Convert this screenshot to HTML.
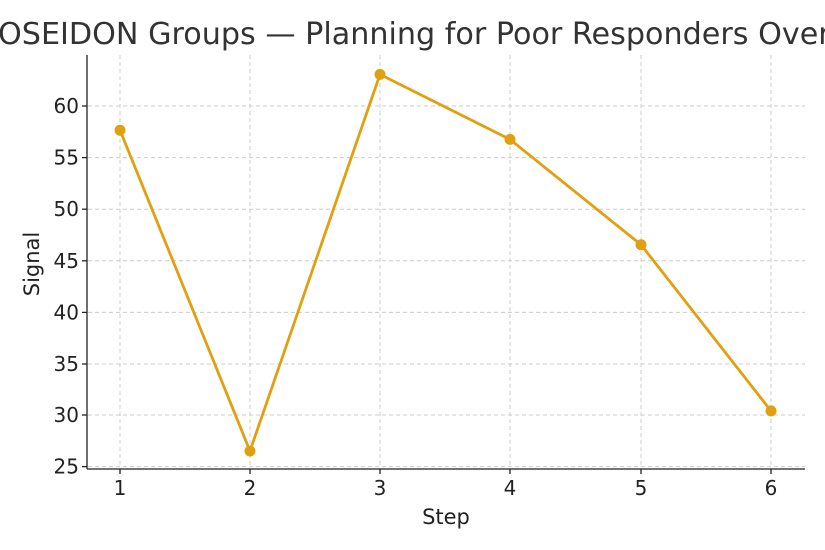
<!DOCTYPE html>
<html><head><meta charset="utf-8"><style>
body{margin:0;background:#fff;}
svg{display:block;font-family:"DejaVu Sans","Liberation Sans",sans-serif;}
</style></head><body>
<svg width="825" height="550" xmlns="http://www.w3.org/2000/svg">
<rect width="825" height="550" fill="#fff"/>
<text x="447" y="44" font-size="30.2" fill="#333" text-anchor="middle">POSEIDON Groups — Planning for Poor Responders Over Time</text>
<g stroke="#ccc" stroke-width="1" stroke-dasharray="4,3">
<line x1="120" y1="55" x2="120" y2="468"/><line x1="250" y1="55" x2="250" y2="468"/><line x1="380" y1="55" x2="380" y2="468"/><line x1="510" y1="55" x2="510" y2="468"/><line x1="641" y1="55" x2="641" y2="468"/><line x1="771" y1="55" x2="771" y2="468"/>
<line x1="88" y1="106" x2="805" y2="106"/><line x1="88" y1="157.6" x2="805" y2="157.6"/><line x1="88" y1="209.2" x2="805" y2="209.2"/><line x1="88" y1="260.8" x2="805" y2="260.8"/><line x1="88" y1="312.4" x2="805" y2="312.4"/><line x1="88" y1="364" x2="805" y2="364"/><line x1="88" y1="415" x2="805" y2="415"/><line x1="88" y1="466.6" x2="805" y2="466.6"/>
</g>
<g stroke="#222" stroke-width="1.3">
<line x1="87" y1="55" x2="87" y2="469"/><line x1="87" y1="469" x2="805" y2="469"/>
<line x1="120" y1="469" x2="120" y2="474"/><line x1="250" y1="469" x2="250" y2="474"/><line x1="380" y1="469" x2="380" y2="474"/><line x1="510" y1="469" x2="510" y2="474"/><line x1="641" y1="469" x2="641" y2="474"/><line x1="771" y1="469" x2="771" y2="474"/>
<line x1="82" y1="106" x2="87" y2="106"/><line x1="82" y1="157.6" x2="87" y2="157.6"/><line x1="82" y1="209.2" x2="87" y2="209.2"/><line x1="82" y1="260.8" x2="87" y2="260.8"/><line x1="82" y1="312.4" x2="87" y2="312.4"/><line x1="82" y1="364" x2="87" y2="364"/><line x1="82" y1="415" x2="87" y2="415"/><line x1="82" y1="466.6" x2="87" y2="466.6"/>
</g>
<g font-size="20" fill="#222" text-anchor="middle">
<text x="120" y="495">1</text><text x="250" y="495">2</text><text x="380" y="495">3</text><text x="510" y="495">4</text><text x="641" y="495">5</text><text x="771" y="495">6</text>
</g>
<g font-size="20" fill="#222" text-anchor="end">
<text x="79" y="113">60</text><text x="79" y="164.6">55</text><text x="79" y="216.2">50</text><text x="79" y="267.8">45</text><text x="79" y="319.4">40</text><text x="79" y="371">35</text><text x="79" y="422">30</text><text x="79" y="473.6">25</text>
</g>
<text x="446" y="524" font-size="21" fill="#222" text-anchor="middle">Step</text>
<text transform="translate(39,264) rotate(-90)" font-size="21" fill="#222" text-anchor="middle">Signal</text>
<polyline points="120,130.2 250,451 380,74.4 510,139.4 641,244.7 771,410.9" fill="none" stroke="#E1A010" stroke-width="2.8"/>
<g fill="#E1A010">
<circle cx="120" cy="130.2" r="5.5"/><circle cx="250" cy="451" r="5.5"/><circle cx="380" cy="74.4" r="5.5"/><circle cx="510" cy="139.4" r="5.5"/><circle cx="641" cy="244.7" r="5.5"/><circle cx="771" cy="410.9" r="5.5"/>
</g>
</svg>
</body></html>
